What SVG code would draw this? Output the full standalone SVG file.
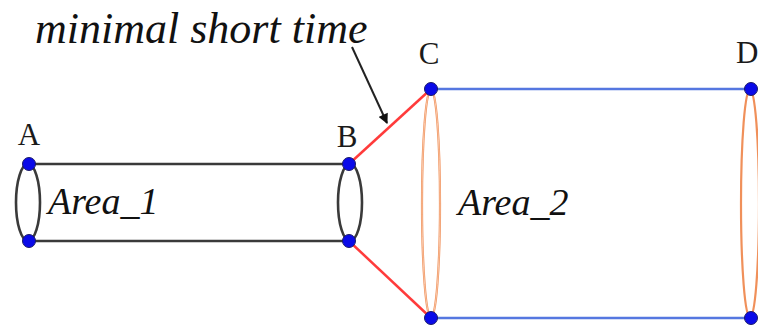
<svg xmlns="http://www.w3.org/2000/svg" width="758" height="327" viewBox="0 0 758 327">
<style>
.lbl{font-family:"Liberation Serif",serif;font-size:31px;fill:#1a1a1a}
.it{font-family:"Liberation Serif",serif;font-style:italic;fill:#111}
.gray{stroke:#3a3a3a;stroke-width:2.6;fill:none}
.red{stroke:#ff3b3b;stroke-width:2.5;fill:none}
.blue{stroke:#5577e0;stroke-width:2.5;fill:none}
.org{stroke:#f0905a;stroke-width:2.2;fill:none}
.dot{fill:#0a0ae8;stroke:#1a1a6a;stroke-width:1}
</style>
<defs>
<marker id="ah" viewBox="0 0 10 10" refX="9" refY="5" markerWidth="11" markerHeight="10" orient="auto" markerUnits="userSpaceOnUse">
<path d="M0,0 L10,5 L0,10 z" fill="#111"/>
</marker>
</defs>
<g id="connectors">
<line class="gray" x1="29" y1="164" x2="349" y2="164"/>
<line class="gray" x1="29" y1="241" x2="349" y2="241"/>
<line class="red" x1="349" y1="164" x2="431" y2="89"/>
<line class="red" x1="349" y1="241" x2="431" y2="318"/>
<line class="blue" x1="431" y1="89" x2="751" y2="89"/>
<line class="blue" x1="431" y1="318" x2="751" y2="318"/>
<line x1="352" y1="47" x2="387" y2="123" stroke="#222" stroke-width="2" marker-end="url(#ah)"/>
</g>
<g id="area1">
<ellipse class="gray" cx="28" cy="202.5" rx="12" ry="38.5"/>
<text class="it" x="48" y="214" font-size="38">Area_1</text>
</g>
<g id="A">
<text class="lbl" x="29" y="145" text-anchor="middle">A</text>
<circle class="dot" cx="29" cy="164" r="6.5"/>
<circle class="dot" cx="29" cy="241" r="6.5"/>
</g>
<g id="B">
<ellipse class="gray" cx="350" cy="202.5" rx="12" ry="38.5"/>
<text class="lbl" x="347" y="147" text-anchor="middle">B</text>
<circle class="dot" cx="349" cy="164" r="6.5"/>
<circle class="dot" cx="349" cy="241" r="6.5"/>
</g>
<g id="area2">
<ellipse class="org" cx="431" cy="203.5" rx="9" ry="114.5"/>
<ellipse stroke="#fbd6bd" stroke-width="0.8" fill="none" cx="431" cy="203.5" rx="9" ry="114.5"/>
<text class="it" x="458" y="215" font-size="38">Area_2</text>
</g>
<g id="C">
<text class="lbl" x="429" y="64" text-anchor="middle">C</text>
<circle class="dot" cx="431" cy="89" r="6.5"/>
<circle class="dot" cx="431" cy="318" r="6.5"/>
</g>
<g id="D">
<ellipse class="org" cx="750" cy="203.5" rx="9" ry="114.5"/>
<text class="lbl" x="736" y="63">D</text>
<circle class="dot" cx="751" cy="89" r="6.5"/>
<circle class="dot" cx="751" cy="318" r="6.5"/>
</g>
<g id="note">
<text class="it" x="35" y="43" font-size="44">minimal short time</text>
</g>
</svg>
